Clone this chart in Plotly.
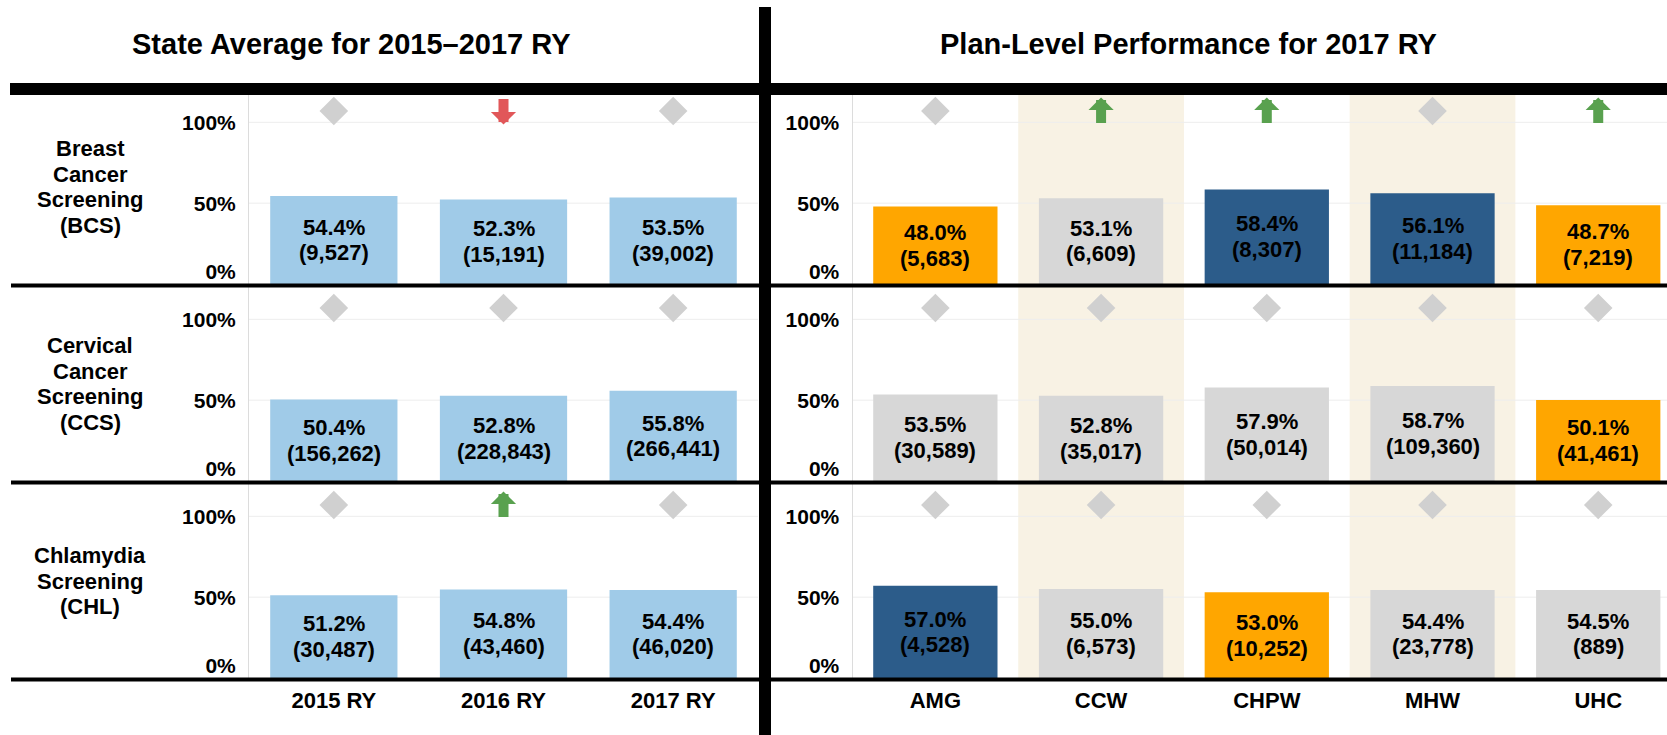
import plotly.graph_objects as go

# ---------------- data ----------------
years = ["2015 RY", "2016 RY", "2017 RY"]
plans = ["AMG", "CCW", "CHPW", "MHW", "UHC"]
shaded_plans = ["CCW", "MHW"]

measure_lines = [
    ["Breast", "Cancer", "Screening", "(BCS)"],
    ["Cervical", "Cancer", "Screening", "(CCS)"],
    ["Chlamydia", "Screening", "(CHL)"],
]

state_rates = [
    [54.4, 52.3, 53.5],
    [50.4, 52.8, 55.8],
    [51.2, 54.8, 54.4],
]
state_denoms = [
    [9527, 15191, 39002],
    [156262, 228843, 266441],
    [30487, 43460, 46020],
]
state_trend = [
    ["none", "down", "none"],
    ["none", "none", "none"],
    ["none", "up", "none"],
]

plan_rates = [
    [48.0, 53.1, 58.4, 56.1, 48.7],
    [53.5, 52.8, 57.9, 58.7, 50.1],
    [57.0, 55.0, 53.0, 54.4, 54.5],
]
plan_denoms = [
    [5683, 6609, 8307, 11184, 7219],
    [30589, 35017, 50014, 109360, 41461],
    [4528, 6573, 10252, 23778, 889],
]
plan_status = [
    ["below", "same", "above", "above", "below"],
    ["same", "same", "same", "same", "below"],
    ["above", "same", "below", "same", "same"],
]
plan_trend = [
    ["none", "up", "up", "none", "up"],
    ["none", "none", "none", "none", "none"],
    ["none", "none", "none", "none", "none"],
]

y_tick_vals = [7.7, 50, 100]
y_tick_text = ["0%", "50%", "100%"]
grid_vals = [50, 100]

# ---------------- styles ----------------
W, H = 1667, 735
FONT = "Liberation Sans, Arial, sans-serif"
STATE_COLOR = "#A0CBE8"
STATUS_COLORS = {"above": "#2C5C8A", "below": "#FFA600", "same": "#D7D7D7"}
DIAMOND_COLOR = "#D0D0D0"
UP_COLOR = "#59A14F"
DOWN_COLOR = "#E15759"
SHADE_COLOR = "#F8F2E4"
GRID_COLOR = "#EDEDED"
TREND_Y = 107
Y_RANGE = [0, 120]
LINE_GAP = 25.8

row_bottom_px = [284, 481, 678]
row_height_px = 194
left_dom_px = (249, 758)
right_dom_px = (852.5, 1667)
right_range = [-0.5, 4.415]


def px_x(v):
    return v / W


def px_y(v):
    return 1 - v / H


fig = go.Figure()
layout = dict(
    width=W, height=H, autosize=False,
    margin=dict(l=0, r=0, t=0, b=0),
    paper_bgcolor="white", plot_bgcolor="white",
    showlegend=False, bargap=0.25,
    font=dict(family=FONT, color="black"),
)
shapes = []
annotations = []
LABEL_FONT = dict(family=FONT, size=22, color="black", weight="bold")

for r in range(3):
    ydom = [px_y(row_bottom_px[r]), px_y(row_bottom_px[r] - row_height_px)]
    for p in range(2):
        k = r * 2 + p + 1
        xn = "x" if k == 1 else f"x{k}"
        yn = "y" if k == 1 else f"y{k}"
        if p == 0:
            cats = years
            vals = state_rates[r]
            dens = state_denoms[r]
            colors = [STATE_COLOR] * len(cats)
            trend = state_trend[r]
            xdom = [px_x(left_dom_px[0]), px_x(left_dom_px[1])]
            xr = [-0.5, len(cats) - 0.5]
        else:
            cats = plans
            vals = plan_rates[r]
            dens = plan_denoms[r]
            colors = [STATUS_COLORS[s] for s in plan_status[r]]
            trend = plan_trend[r]
            xdom = [px_x(right_dom_px[0]), px_x(right_dom_px[1])]
            xr = right_range
            for c in shaded_plans:
                i = cats.index(c)
                shapes.append(dict(type="rect", xref=xn, yref=f"{yn} domain",
                                   x0=i - 0.5, x1=i + 0.5, y0=0, y1=1,
                                   fillcolor=SHADE_COLOR, line=dict(width=0),
                                   layer="below"))
        for g in grid_vals:
            shapes.append(dict(type="line", xref=f"{xn} domain", yref=yn,
                               x0=0, x1=1, y0=g, y1=g,
                               line=dict(color=GRID_COLOR, width=1),
                               layer="below"))

        fig.add_trace(go.Bar(
            x=cats, y=vals, xaxis=xn, yaxis=yn,
            marker=dict(color=colors, line=dict(width=0)),
            hoverinfo="skip",
        ))
        # two-line value labels centred in each bar
        for c, v, d in zip(cats, vals, dens):
            for txt, shift in ((f"{v:.1f}%", LINE_GAP / 2), (f"({d:,})", -LINE_GAP / 2)):
                annotations.append(dict(
                    x=c, y=v / 2, xref=xn, yref=yn, text=txt, showarrow=False,
                    xanchor="center", yanchor="middle", yshift=shift,
                    font=LABEL_FONT,
                ))
        dcats = [c for c, t in zip(cats, trend) if t == "none"]
        fig.add_trace(go.Scatter(
            x=dcats, y=[TREND_Y] * len(dcats), xaxis=xn, yaxis=yn,
            mode="markers", cliponaxis=False,
            marker=dict(symbol="diamond", size=22, color=DIAMOND_COLOR,
                        line=dict(width=0)),
            hoverinfo="skip",
        ))
        for c, t in zip(cats, trend):
            if t == "none":
                continue
            up = t == "up"
            annotations.append(dict(
                x=c, y=TREND_Y, xref=xn, yref=yn, text="",
                showarrow=True, arrowhead=1, arrowsize=0.42, arrowwidth=10,
                arrowcolor=UP_COLOR if up else DOWN_COLOR,
                ax=0, ay=27 if up else -27,
                yshift=13.5 if up else -13.5,
            ))

        xa = dict(domain=xdom, anchor=yn, type="category",
                  categoryorder="array", categoryarray=cats, range=xr,
                  showgrid=False, zeroline=False, showline=False,
                  showticklabels=(r == 2), ticks="outside", ticklen=3,
                  tickcolor="rgba(0,0,0,0)",
                  tickfont=dict(family=FONT, size=22, color="black", weight="bold"),
                  fixedrange=True)
        ya = dict(domain=ydom, anchor=xn, range=Y_RANGE,
                  tickvals=y_tick_vals, ticktext=y_tick_text,
                  showgrid=False, zeroline=False,
                  showline=True, linecolor="#DCDCDC", linewidth=1,
                  ticks="outside", ticklen=8, tickcolor="rgba(0,0,0,0)",
                  tickfont=dict(family=FONT, size=21, color="black", weight="bold"),
                  fixedrange=True)
        layout["xaxis" if k == 1 else f"xaxis{k}"] = xa
        layout["yaxis" if k == 1 else f"yaxis{k}"] = ya

    # row label
    lines = measure_lines[r]
    center_px = row_bottom_px[r] - row_height_px / 2
    n = len(lines)
    for i, ln in enumerate(lines):
        annotations.append(dict(
            x=px_x(90), y=px_y(center_px + (i - (n - 1) / 2) * 25.8),
            xref="paper", yref="paper", text=ln, showarrow=False,
            xanchor="center", yanchor="middle",
            font=LABEL_FONT,
        ))

# panel titles
for txt, cx in [("State Average for 2015–2017 RY", 351),
                ("Plan-Level Performance for 2017 RY", 1188)]:
    annotations.append(dict(
        x=px_x(cx), y=px_y(44), xref="paper", yref="paper", text=txt,
        showarrow=False, xanchor="center", yanchor="middle",
        font=dict(family=FONT, size=29, color="black", weight="bold"),
    ))

# frame lines
shapes.append(dict(type="rect", xref="paper", yref="paper",
                   x0=px_x(10), x1=1, y0=px_y(95), y1=px_y(83),
                   fillcolor="black", line=dict(width=0)))
for yb in row_bottom_px:
    shapes.append(dict(type="rect", xref="paper", yref="paper",
                       x0=px_x(11), x1=1, y0=px_y(yb + 3.5), y1=px_y(yb - 0.5),
                       fillcolor="black", line=dict(width=0)))
shapes.append(dict(type="rect", xref="paper", yref="paper",
                   x0=px_x(759), x1=px_x(771), y0=0, y1=px_y(7),
                   fillcolor="black", line=dict(width=0)))

layout["shapes"] = shapes
layout["annotations"] = annotations
fig.update_layout(**layout)

fig.write_html("out.html", config={"displayModeBar": False, "staticPlot": True},
               post_script="document.body.style.margin='0';document.body.style.overflow='hidden';")
